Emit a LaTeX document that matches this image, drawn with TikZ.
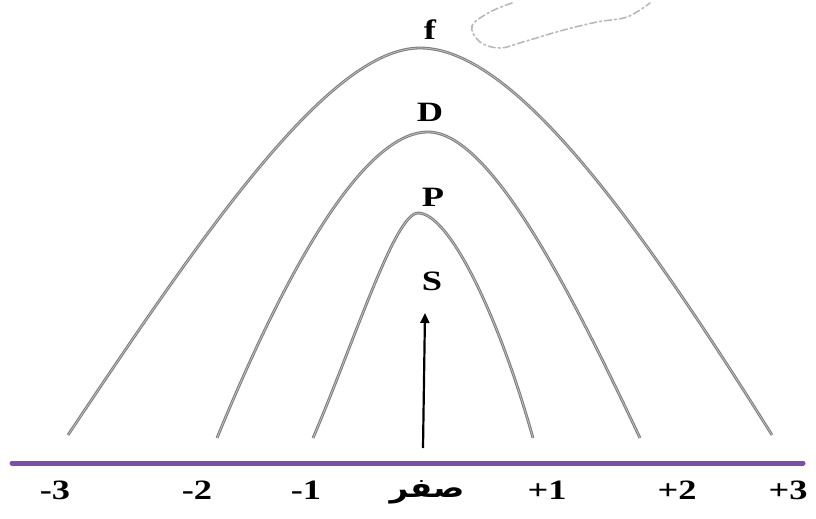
\documentclass[tikz,border=0pt]{standalone}
\usepackage{fontspec}
\setmainfont{Liberation Serif}
\newfontfamily\arabicfont[Script=Arabic]{DejaVu Sans}
\TeXXeTstate=1
\usetikzlibrary{arrows.meta}
\definecolor{axispurple}{RGB}{128,78,170}
\definecolor{curvegray}{RGB}{125,125,125}
\begin{document}
\begin{tikzpicture}[x=1pt,y=-1pt,
  orbit/.style={draw=curvegray,line width=2.8pt},
  orbitin/.style={draw=gray!45,line width=0.7pt},
  lbl/.style={font=\fontsize{28}{30}\selectfont\bfseries,inner sep=0pt,xscale=1.3},
  num/.style={font=\fontsize{28}{30}\selectfont\bfseries,inner sep=0pt,xscale=1.3},
]
\useasboundingbox (0,0) rectangle (816,519);
\fill[white] (0,0) rectangle (816,519);

% axis
\coordinate (axL) at (12,463);
\coordinate (axR) at (803,463);
\draw[axispurple,line width=5pt,line cap=round] (axL) -- (axR);

% curve endpoints
\coordinate (fL) at (68,435);  \coordinate (fT) at (420,48);  \coordinate (fR) at (772,435);
\coordinate (dL) at (217,438); \coordinate (dT) at (428,132); \coordinate (dR) at (640,438);
\coordinate (pL) at (313,438); \coordinate (pT) at (418,213); \coordinate (pR) at (533,438);

\foreach \st in {orbit,orbitin}{
\draw[\st] (fL) .. controls (205,230) and (330,48) .. (fT)
               .. controls (515,48) and (640,225) .. (fR);
\draw[\st] (dL) .. controls (290,260) and (366,132) .. (dT)
               .. controls (490,132) and (570,290) .. (dR);
\draw[\st] (pL) .. controls (355,340) and (395,213) .. (pT)
               .. controls (450,213) and (500,320) .. (pR);
}

% arrow
\coordinate (a0) at (423,448);
\coordinate (a1) at (425,313);
\draw[line width=2.2pt,-{Triangle[length=10pt,width=9pt]}] (a0) -- (a1);

% labels
\node[lbl] (lf) at (430,30) {f};
\node[lbl] (lD) at (430,112) {D};
\node[lbl] (lP) at (433,197) {P};
\node[lbl] (lS) at (432,281) {S};

\node[num] (n1) at (55,490) {-3};
\node[num] (n2) at (197,490) {-2};
\node[num] (n3) at (306,490) {-1};
\node[inner sep=0pt,xscale=1.2] (n0) at (427,492) {\arabicfont\bfseries\fontsize{27}{30}\selectfont\beginR صفر\endR};
\node[num] (n4) at (547,490) {+1};
\node[num] (n5) at (677,490) {+2};
\node[num] (n6) at (788,490) {+3};

% faint dash-dot outline at top right
\draw[gray!55,line width=1.6pt,dash pattern=on 7pt off 3pt on 2pt off 3pt,line cap=round]
  plot[smooth,tension=0.6] coordinates {(512,3) (490,12) (472,26) (480,42) (500,48) (523,42) (560,31) (597,22) (627,17) (650,3)};
\end{tikzpicture}
\end{document}
